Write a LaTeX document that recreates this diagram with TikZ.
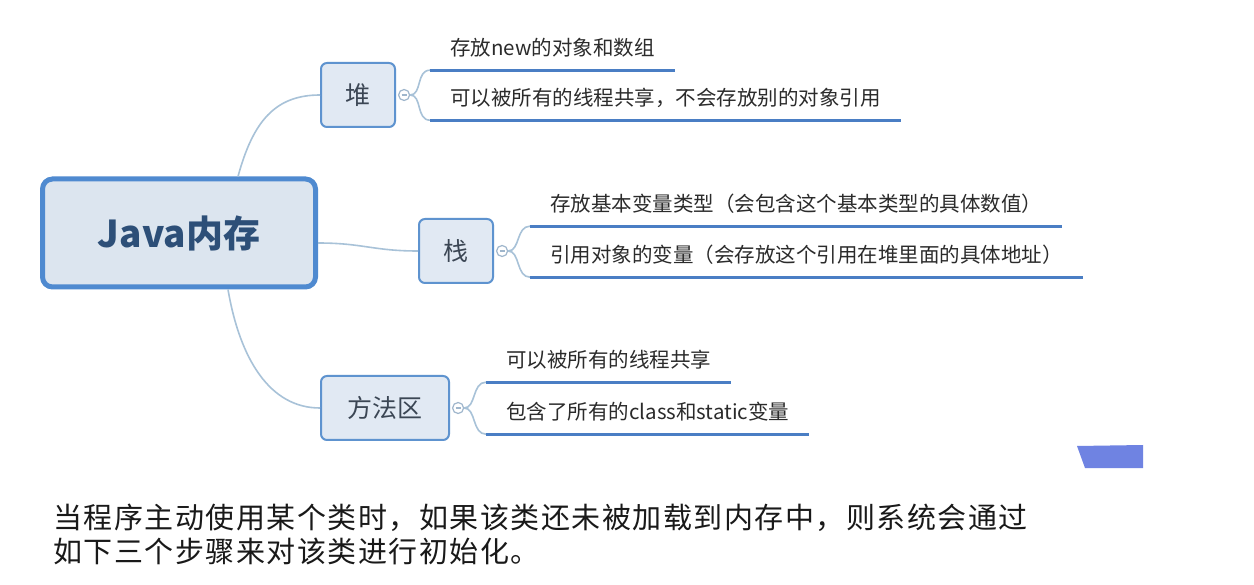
\documentclass[tikz,border=0pt]{standalone}
\usepackage{fontspec}
\setmainfont{Noto Sans CJK SC}
\newfontfamily\notefont[LetterSpace=5.2]{Noto Sans CJK SC}
\definecolor{mainb}{HTML}{4F8AD0}
\definecolor{mainf}{HTML}{DCE5EF}
\definecolor{maint}{HTML}{2D4F78}
\definecolor{topb}{HTML}{5E93CF}
\definecolor{topf}{HTML}{E1E9F3}
\definecolor{topt}{HTML}{3B4654}
\definecolor{connc}{HTML}{A8C2D8}
\definecolor{ulc}{HTML}{4A7EC4}
\definecolor{foldc}{HTML}{9FB6CC}
\definecolor{leaft}{HTML}{2B2B2B}
\definecolor{trapc}{HTML}{6F83E2}
\begin{document}
\begin{tikzpicture}[x=1pt,y=-1pt,
  conn/.style={draw=connc, line width=1.6pt},
  mainbox/.style={draw=mainb, line width=5pt, fill=mainf, rounded corners=10pt,
    minimum width=273pt, minimum height=108pt, inner sep=0pt,
    font=\fontsize{37}{40}\selectfont\bfseries, text=maint},
  topic/.style={draw=topb, line width=2pt, fill=topf, rounded corners=6pt,
    minimum height=64pt, minimum width=74pt, inner sep=0pt,
    font=\fontsize{25}{28}\selectfont, text=topt},
  leaf/.style={anchor=west, inner xsep=20pt, inner ysep=0pt, minimum height=44pt,
    font=\fontsize{20.5}{22}\selectfont, text=leaft},
  uline/.style={draw=ulc, line width=3pt},
  fold/.style={circle, draw=foldc, fill=white, line width=1.2pt, minimum size=11pt, inner sep=0pt, anchor=west},
  note/.style={anchor=west, inner sep=0pt, font=\notefont\fontsize{29}{33}\selectfont, text=black!90}
]
\useasboundingbox (0,0) rectangle (1254,585);
\fill[white] (0,0) rectangle (1254,585);

\node[mainbox] (main) at (179,233) {Java内存};
\node[topic] (heap) at (358,95) {堆};
\node[topic] (stack) at (456,251) {栈};
\node[topic, minimum width=128pt] (method) at (385,408) {方法区};

\draw[conn] ([xshift=59pt]main.north) .. controls +(15,-55) and +(-45,0) .. (heap.west);
\draw[conn] ([yshift=-10pt]main.east) .. controls +(45,0) and +(-45,0) .. (stack.west);
\draw[conn] ([xshift=49pt]main.south) .. controls +(12,70) and +(-50,0) .. (method.west);

% fold circles
\node[fold] (f1) at ([xshift=2pt]heap.east) {};
\node[fold] (f2) at ([xshift=2pt]stack.east) {};
\node[fold] (f3) at ([xshift=2pt]method.east) {};
\foreach \f in {f1,f2,f3}{
  \draw[foldc, line width=1.2pt] ([xshift=-2.5pt]\f.center) -- ([xshift=2.5pt]\f.center);
}

% leaves
\node[leaf] (h1) at (430,48) {存放new的对象和数组};
\node[leaf] (h2) at (430,98) {可以被所有的线程共享，不会存放别的对象引用};
\node[leaf] (s1) at (530,204) {存放基本变量类型（会包含这个基本类型的具体数值）};
\node[leaf] (s2) at (530,255) {引用对象的变量（会存放这个引用在堆里面的具体地址）};
\node[leaf] (m1) at (486,360) {可以被所有的线程共享};
\node[leaf] (m2) at (486,412) {包含了所有的class和static变量};

\foreach \f/\a/\b in {f1/h1/h2, f2/s1/s2, f3/m1/m2}{
  \draw[conn] (\f.east) .. controls +(12,0) and +(-14,0) .. (\a.south west);
  \draw[conn] (\f.east) .. controls +(12,0) and +(-14,0) .. (\b.south west);
  \draw[uline] (\a.south west) -- (\a.south east);
  \draw[uline] (\b.south west) -- (\b.south east);
}

% blue trapezoid
\fill[trapc] (1077,446) -- (1143,445) -- (1143,468) -- (1085,468) -- cycle;

% bottom note
\node[note] (n1) at (53,518) {当程序主动使用某个类时，如果该类还未被加载到内存中，则系统会通过};
\node[note] (n2) at (53,551) {如下三个步骤来对该类进行初始化。};
\end{tikzpicture}
\end{document}
